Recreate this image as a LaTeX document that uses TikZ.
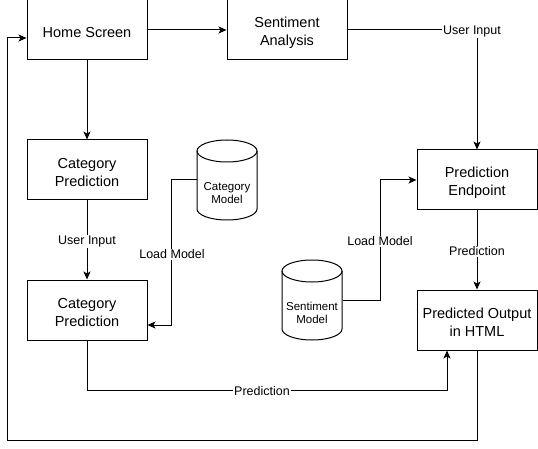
\documentclass[tikz,border=0pt]{standalone}
\usepackage{fontspec}
\setmainfont{Liberation Sans}
\usetikzlibrary{arrows.meta}
\newcommand\mybox[3]{\node[box] (#1) at (#2) {}; \node[boxtxt] (#1t) at ([yshift=-2.5pt]#1.center) {#3};}
\begin{document}
\begin{tikzpicture}[x=1pt,y=-1pt,line width=1pt,
  >={Stealth[length=8pt,width=7pt,inset=2pt]},
  box/.style={draw,minimum width=120pt,minimum height=60pt,inner sep=0pt},
  boxtxt/.style={align=center,inner sep=0pt,font=\fontsize{14.5}{18}\selectfont},
  lbl/.style={fill=white,inner sep=1pt,yshift=-1.5pt,font=\fontsize{12.5}{15}\selectfont},
  cylbox/.style={draw=none,minimum width=60pt,minimum height=80pt,inner sep=0pt},
  cyltxt/.style={align=center,inner sep=0pt,font=\fontsize{11.5}{13.5}\selectfont}]
\useasboundingbox (0,0) rectangle (538,449);
\fill[white] (0,0) rectangle (538,449);

\mybox{home}{87,30}{Home Screen}
\mybox{sent}{287,30}{Sentiment\\Analysis}
\mybox{cp1}{87,170}{Category\\Prediction}
\mybox{cp2}{87,310}{Category\\Prediction}
\mybox{pe}{477,180}{Prediction\\Endpoint}
\mybox{po}{477,320}{Predicted Output\\in HTML}

% Category Model cylinder
\node[cylbox] (cm) at (227,180) {};
\draw (227,151) ellipse [x radius=30pt,y radius=11pt];
\draw (197,151) -- (197,209) arc[start angle=180,end angle=360,x radius=30pt,y radius=11pt] -- (257,151);
\node[cyltxt] (cmt) at (227,193) {Category\\Model};

% Sentiment Model cylinder
\node[cylbox] (sm) at (312,300) {};
\draw (312,271) ellipse [x radius=30pt,y radius=11pt];
\draw (282,271) -- (282,329) arc[start angle=180,end angle=360,x radius=30pt,y radius=11pt] -- (342,271);
\node[cyltxt] (smt) at (312,313) {Sentiment\\Model};

\coordinate (c1) at (7,440);

\draw[->] (home) -- (sent);
\draw[->] (home) -- (cp1);
\draw[->] (sent.east) -| (pe.north);
\node[lbl] (l1) at (472,30) {User Input};
\draw[->] (cp1) -- node[lbl] (l2) {User Input} (cp2);
\draw[->] (cm.west) -- ++(-25,0) |- ([yshift=-15pt]cp2.east);
\node[lbl] (l3) at (172,253) {Load Model};
\draw[->] (sm.east) -- ++(38,0) |- (pe.west);
\node[lbl] (l4) at (380,240) {Load Model};
\draw[->] (pe) -- node[lbl] (l5) {Prediction} (po);
\draw[->] (cp2.south) -- ++(0,50) -| ([xshift=-30pt]po.south);
\node[lbl] (l6) at (262,390) {Prediction};
\draw[->] (po.south) |- (c1) |- ([yshift=-8pt]home.west);
\end{tikzpicture}
\end{document}
